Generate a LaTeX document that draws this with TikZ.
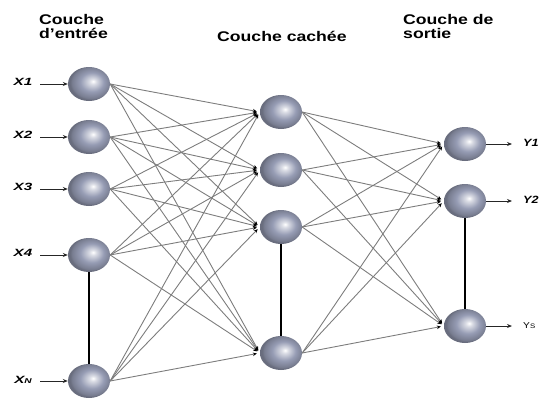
\documentclass[tikz,border=0pt]{standalone}
\usepackage{fontspec}
\setmainfont{Liberation Sans}
\usetikzlibrary{arrows.meta,shapes.geometric}
\definecolor{ballc}{RGB}{150,156,180}
\definecolor{linkc}{RGB}{125,125,125}
\pgfdeclareradialshading{neuronball}{\pgfpoint{5bp}{4bp}}{color(0bp)=(white); color(4bp)=(ballc!35!white); color(14bp)=(ballc); color(23bp)=(ballc!80!black); color(25bp)=(ballc!70!black); color(50bp)=(ballc!70!black)}
\begin{document}
\begin{tikzpicture}[x=1pt,y=-1pt,
  neuron/.style={ellipse, minimum width=42pt, minimum height=34pt, inner sep=0pt, shade, shading=neuronball},
  link/.style={draw=linkc, line width=0.9pt, -{Stealth[black,length=4pt,width=3.5pt]}, shorten >=3pt},
  io/.style={draw=black!85, line width=1pt, -{Stealth[length=5pt,width=4pt]}},
  bar/.style={line width=2.8pt, black},
  head/.style={anchor=base west, inner sep=0pt, font=\bfseries\fontsize{14}{14}\selectfont},
  lab/.style={inner sep=0pt, font=\bfseries\itshape\fontsize{10.5}{10.5}\selectfont}]
\useasboundingbox (0,0) rectangle (539,399);
\clip (0,0) rectangle (539,399);

% headers
\node[head] (hA) at (39,24) {\scalebox{1.26}[1]{Couche}};
\node[head] (hB) at (39,38) {\scalebox{1.26}[1]{d’entrée}};
\node[head] (hC) at (217,41) {\scalebox{1.26}[1]{Couche cachée}};
\node[head] (hD) at (403,24) {\scalebox{1.26}[1]{Couche de}};
\node[head] (hE) at (403,38) {\scalebox{1.26}[1]{sortie}};

% neurons
\node[neuron] (i1) at (89,84) {};
\node[neuron] (i2) at (89,137) {};
\node[neuron] (i3) at (89,189) {};
\node[neuron] (i4) at (89,255) {};
\node[neuron] (i5) at (89,381) {};
\node[neuron] (h1) at (281,112) {};
\node[neuron] (h2) at (281,170) {};
\node[neuron] (h3) at (281,227) {};
\node[neuron] (h4) at (281,353) {};
\node[neuron] (o1) at (465,144) {};
\node[neuron] (o2) at (465,201) {};
\node[neuron] (o3) at (465,326) {};

% links
\foreach \a in {1,...,5}{
  \foreach \b in {1,...,4}{
    \draw[link] (i\a.east) -- (h\b.west);
  }
}
\foreach \a in {1,...,4}{
  \foreach \b in {1,...,3}{
    \draw[link] (h\a.east) -- (o\b.west);
  }
}

% bars
\draw[bar] (i4.south) -- (i5.north);
\draw[bar] (h3.south) -- (h4.north);
\draw[bar] (o2.south) -- (o3.north);

% input labels
\node[lab] (x1) at (23,82) {\scalebox{1.45}[1]{X1}};
\node[lab] (x2) at (23,135) {\scalebox{1.45}[1]{X2}};
\node[lab] (x3) at (23,187) {\scalebox{1.45}[1]{X3}};
\node[lab] (x4) at (23,253) {\scalebox{1.45}[1]{X4}};
\node[lab] (x5) at (23,380) {\scalebox{1.45}[1]{X{\fontsize{7}{7}\selectfont N}}};
\coordinate (a1) at (40,84);
\coordinate (a2) at (40,137);
\coordinate (a3) at (40,189);
\coordinate (a4) at (40,255);
\coordinate (a5) at (40,381);
\foreach \k in {1,...,5}{ \draw[io] (a\k) -- (i\k.west); }

% outputs
\coordinate (b1) at (512,144);
\coordinate (b2) at (512,201);
\coordinate (b3) at (512,326);
\foreach \k in {1,...,3}{ \draw[io] (o\k.east) -- (b\k); }
\node[lab, anchor=west] (y1) at (523,143) {\scalebox{1.2}[1]{Y1}};
\node[lab, anchor=west] (y2) at (523,200) {\scalebox{1.2}[1]{Y2}};
\node[lab, anchor=west, font=\fontsize{8.5}{8.5}\selectfont] (y3) at (523,326) {\scalebox{1.2}[1]{Y{\fontsize{6.5}{6.5}\selectfont S}}};
\end{tikzpicture}
\end{document}
